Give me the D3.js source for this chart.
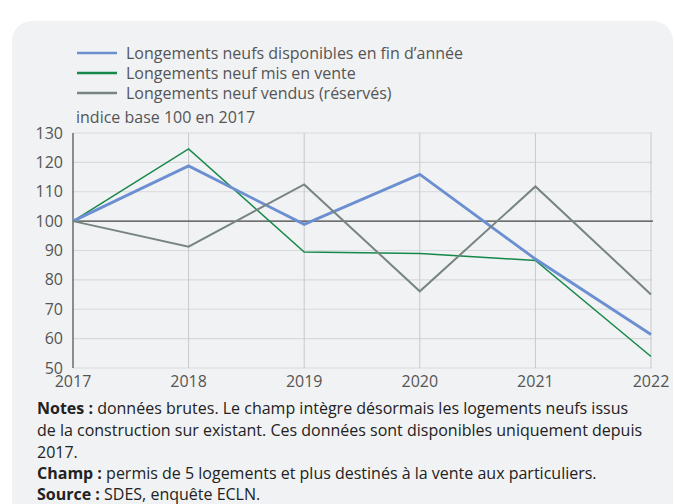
<!DOCTYPE html>
<html>
<head>
<meta charset="utf-8">
<script src="https://cdn.jsdelivr.net/npm/d3@7"></script>
<style>
  body { margin: 0; background: #fff; font-family: "Open Sans", sans-serif; }
  svg text { font-family: "Open Sans", sans-serif; }
</style>
</head>
<body>
<div id="chart"></div>
<script>
// data
var years = [2017, 2018, 2019, 2020, 2021, 2022];
var disponibles = [100, 118.8, 98.9, 115.9, 87.1, 61.4];
var misEnVente = [100, 124.6, 89.5, 89.0, 86.6, 53.9];
var vendus = [100, 91.3, 112.5, 76.1, 111.8, 75.0];
var yTicks = [50, 60, 70, 80, 90, 100, 110, 120, 130];

var seriesNames = ["Longements neufs disponibles en fin d\u2019année",
                   "Longements neuf mis en vente",
                   "Longements neuf vendus (réservés)"];
var seriesColors = ["#6b8fd1", "#16884a", "#77847f"];
var seriesWidths = [2.8, 1.5, 2];
var seriesValues = [disponibles, misEnVente, vendus];

var width = 674, height = 504;
var svg = d3.select("#chart").append("svg")
    .attr("width", width)
    .attr("height", height);

// card background
svg.append("rect")
    .attr("x", 12).attr("y", 21)
    .attr("width", 661).attr("height", 540)
    .attr("rx", 20)
    .attr("fill", "#f1f2f4");

var x = d3.scalePoint().domain(years).range([73, 651]);
var y = d3.scaleLinear().domain([50, 130]).range([368, 133]);

// grid
svg.append("g").selectAll("line")
    .data(yTicks)
    .enter().append("line")
    .attr("x1", 73).attr("x2", 652)
    .attr("y1", function (d) { return y(d); })
    .attr("y2", function (d) { return y(d); })
    .attr("stroke", "#d8d9dc")
    .attr("stroke-width", 1.2);

svg.append("g").selectAll("line")
    .data(years.slice(1))
    .enter().append("line")
    .attr("x1", function (d) { return x(d); })
    .attr("x2", function (d) { return x(d); })
    .attr("y1", y(130)).attr("y2", y(50))
    .attr("stroke", "#c8c9cc")
    .attr("stroke-width", 1);

// base 100 line
svg.append("line")
    .attr("x1", 73).attr("x2", 653)
    .attr("y1", y(100)).attr("y2", y(100))
    .attr("stroke", "#4a4a4a")
    .attr("stroke-width", 1.2);

// left axis line
svg.append("line")
    .attr("x1", 73).attr("x2", 73)
    .attr("y1", y(130)).attr("y2", y(50))
    .attr("stroke", "#555")
    .attr("stroke-width", 1.3);

// y tick labels
svg.append("g").selectAll("text")
    .data(yTicks)
    .enter().append("text")
    .attr("x", 63)
    .attr("y", function (d) { return y(d); })
    .attr("dy", "0.35em")
    .attr("text-anchor", "end")
    .attr("font-size", 16)
    .attr("fill", "#555")
    .text(function (d) { return d; });

// x tick labels
svg.append("g").selectAll("text")
    .data(years)
    .enter().append("text")
    .attr("x", function (d) { return x(d); })
    .attr("y", 387)
    .attr("text-anchor", "middle")
    .attr("font-size", 16)
    .attr("fill", "#555")
    .text(function (d) { return d; });

// lines
var line = d3.line()
    .x(function (d, i) { return x(years[i]); })
    .y(function (d) { return y(d); });

// green first, then blue, gray on top
[1, 0, 2].forEach(function (k) {
    svg.append("path")
        .datum(seriesValues[k])
        .attr("d", line)
        .attr("fill", "none")
        .attr("stroke", seriesColors[k])
        .attr("stroke-width", seriesWidths[k])
        .attr("stroke-linejoin", "miter");
});

// legend
var legendY = [53, 73, 93];
var legend = svg.append("g").selectAll("g")
    .data(seriesNames)
    .enter().append("g");

legend.append("line")
    .attr("x1", 77).attr("x2", 117)
    .attr("y1", function (d, i) { return legendY[i]; })
    .attr("y2", function (d, i) { return legendY[i]; })
    .attr("stroke", function (d, i) { return seriesColors[i]; })
    .attr("stroke-width", 2.5);

legend.append("text")
    .attr("x", 126)
    .attr("y", function (d, i) { return legendY[i]; })
    .attr("dy", "0.35em")
    .attr("font-size", 16)
    .attr("fill", "#555")
    .text(function (d) { return d; });

svg.append("text")
    .attr("x", 76).attr("y", 117)
    .attr("dy", "0.35em")
    .attr("font-size", 16)
    .attr("fill", "#555")
    .text("indice base 100 en 2017");

// notes
var notes = [
    ["Notes :", " données brutes. Le champ intègre désormais les logements neufs issus"],
    ["", "de la construction sur existant. Ces données sont disponibles uniquement depuis"],
    ["", "2017."],
    ["Champ :", " permis de 5 logements et plus destinés à la vente aux particuliers."],
    ["Source :", " SDES, enquête ECLN."]
];
var notesY = [414, 436, 458, 479, 500];
notes.forEach(function (n, i) {
    var t = svg.append("text")
        .attr("x", 37).attr("y", notesY[i])
        .attr("font-size", 16)
        .attr("fill", "#222");
    if (n[0]) t.append("tspan").attr("font-weight", "bold").text(n[0]);
    t.append("tspan").text(n[1]);
});
</script>
</body>
</html>
